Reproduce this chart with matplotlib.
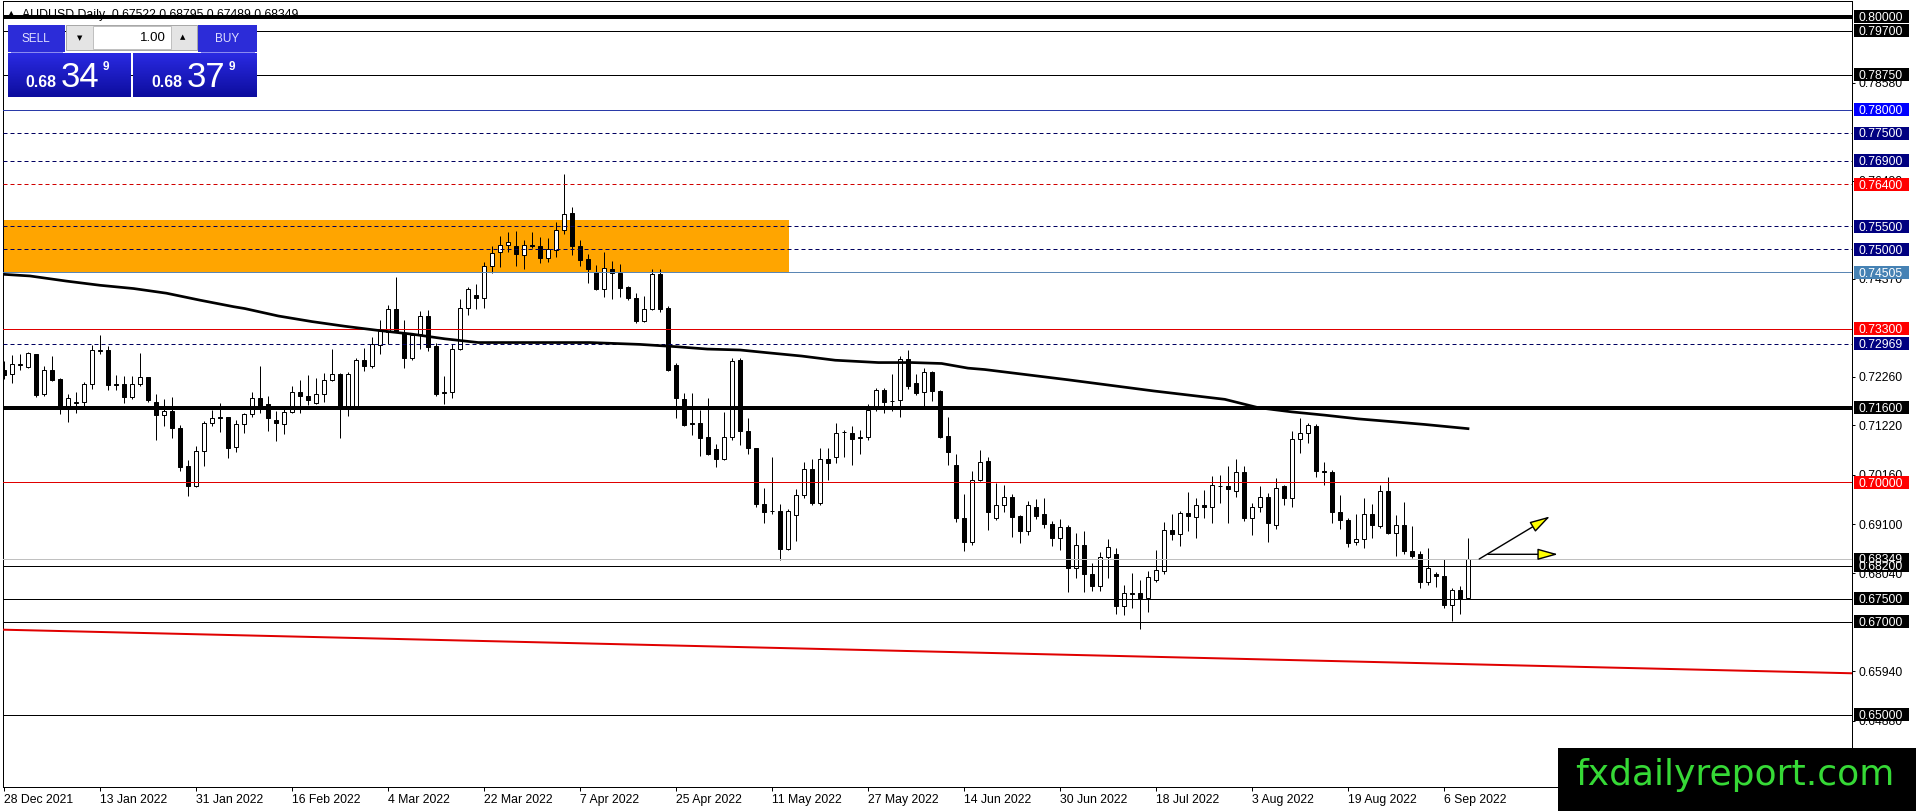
import matplotlib
matplotlib.use('Agg')
import matplotlib.pyplot as plt
import numpy as np
from matplotlib.patches import Rectangle

plt.rcParams['font.family'] = ['Liberation Sans', 'DejaVu Sans']

# ---- data (bar 0 = 28 Dec 2021) ----
opens = [0.7242, 0.7232, 0.7251, 0.7248, 0.7275, 0.7189, 0.7241, 0.7222, 0.7164, 0.7171,
         0.7173, 0.7210, 0.7282, 0.7284, 0.7211, 0.7210, 0.7184, 0.7210, 0.7226, 0.7173,
         0.7144, 0.7152, 0.7116, 0.7034, 0.6992, 0.7068, 0.7128, 0.7139, 0.7140, 0.7076,
         0.7126, 0.7146, 0.7180, 0.7167, 0.7133, 0.7126, 0.7151, 0.7194, 0.7186, 0.7171,
         0.7189, 0.7219, 0.7233, 0.7164, 0.7164, 0.7262, 0.7250, 0.7295, 0.7323, 0.7373,
         0.7321, 0.7267, 0.7318, 0.7358, 0.7292, 0.7191, 0.7194, 0.7287, 0.7375, 0.7403,
         0.7395, 0.7464, 0.7494, 0.7510, 0.7508, 0.7488, 0.7509, 0.7508, 0.7481, 0.7499,
         0.7542, 0.7578, 0.7508, 0.7479, 0.7451, 0.7414, 0.7458, 0.7449, 0.7420, 0.7395,
         0.7347, 0.7372, 0.7447, 0.7374, 0.7252, 0.7179, 0.7127, 0.7127, 0.7098, 0.7072,
         0.7049, 0.7098, 0.7262, 0.7111, 0.7073, 0.6954, 0.6939, 0.6939, 0.6857, 0.6929,
         0.6972, 0.7028, 0.6956, 0.7050, 0.7054, 0.7107, 0.7105, 0.7094, 0.7098, 0.7164,
         0.7197, 0.7175, 0.7176, 0.7264, 0.7213, 0.7194, 0.7237, 0.7196, 0.7099, 0.7038,
         0.6922, 0.6872, 0.7004, 0.7045, 0.6922, 0.6950, 0.6969, 0.6927, 0.6896, 0.6946,
         0.6931, 0.6911, 0.6880, 0.6903, 0.6815, 0.6866, 0.6802, 0.6778, 0.6839, 0.6845,
         0.6735, 0.6761, 0.6762, 0.6752, 0.6789, 0.6810, 0.6898, 0.6888, 0.6933, 0.6926,
         0.6950, 0.6946, 0.6992, 0.6991, 0.6981, 0.7021, 0.6922, 0.6946, 0.6969, 0.6909,
         0.6991, 0.6965, 0.7092, 0.7106, 0.7120, 0.7023, 0.7021, 0.6936, 0.6918, 0.6872,
         0.6877, 0.6931, 0.6905, 0.6981, 0.6890, 0.6907, 0.6853, 0.6845, 0.6786, 0.6802,
         0.6798, 0.6737, 0.6769, 0.67522]
highs = [0.7260, 0.7273, 0.7276, 0.7280, 0.7276, 0.7249, 0.7272, 0.7223, 0.7189, 0.7194,
         0.7215, 0.7294, 0.7316, 0.7293, 0.7230, 0.7229, 0.7229, 0.7277, 0.7227, 0.7189,
         0.7178, 0.7183, 0.7123, 0.7047, 0.7078, 0.7131, 0.7155, 0.7170, 0.7141, 0.7133,
         0.7148, 0.7194, 0.7250, 0.7186, 0.7153, 0.7161, 0.7206, 0.7219, 0.7230, 0.7223,
         0.7234, 0.7286, 0.7234, 0.7237, 0.7267, 0.7289, 0.7312, 0.7348, 0.7381, 0.7441,
         0.7348, 0.7320, 0.7368, 0.7369, 0.7299, 0.7228, 0.7297, 0.7393, 0.7419, 0.7425,
         0.7473, 0.7507, 0.7529, 0.7538, 0.7540, 0.7520, 0.7538, 0.7527, 0.7524, 0.7558,
         0.7662, 0.7592, 0.7520, 0.7490, 0.7467, 0.7495, 0.7476, 0.7469, 0.7421, 0.7406,
         0.7401, 0.7458, 0.7458, 0.7379, 0.7257, 0.7192, 0.7192, 0.7155, 0.7181, 0.7082,
         0.7150, 0.7267, 0.7267, 0.7137, 0.7074, 0.6987, 0.7054, 0.6954, 0.6942, 0.6985,
         0.7043, 0.7049, 0.7074, 0.7074, 0.7128, 0.7113, 0.7121, 0.7113, 0.7167, 0.7203,
         0.7202, 0.7233, 0.7271, 0.7283, 0.7233, 0.7246, 0.7239, 0.7199, 0.7140, 0.7060,
         0.6974, 0.7025, 0.7070, 0.7054, 0.6999, 0.6995, 0.6974, 0.6929, 0.6959, 0.6963,
         0.6965, 0.6916, 0.6921, 0.6907, 0.6890, 0.6896, 0.6827, 0.6850, 0.6877, 0.6859,
         0.6780, 0.6805, 0.6789, 0.6809, 0.6855, 0.6914, 0.6931, 0.6938, 0.6979, 0.6966,
         0.6984, 0.7013, 0.7015, 0.7034, 0.7049, 0.7034, 0.6956, 0.6991, 0.6976, 0.7009,
         0.6995, 0.7110, 0.7137, 0.7127, 0.7125, 0.7044, 0.7027, 0.6972, 0.6923, 0.6931,
         0.6966, 0.6953, 0.6993, 0.7011, 0.6929, 0.6957, 0.6905, 0.6853, 0.6859, 0.6807,
         0.6834, 0.6773, 0.6777, 0.68795]
lows = [0.7221, 0.7214, 0.7242, 0.7246, 0.7184, 0.7186, 0.7217, 0.7147, 0.7130, 0.7149,
        0.7164, 0.7201, 0.7275, 0.7199, 0.7197, 0.7171, 0.7178, 0.7207, 0.7173, 0.7091,
        0.7121, 0.7096, 0.7024, 0.6970, 0.6990, 0.7035, 0.7120, 0.7108, 0.7053, 0.7065,
        0.7106, 0.7139, 0.7149, 0.7110, 0.7088, 0.7103, 0.7148, 0.7149, 0.7166, 0.7167,
        0.7173, 0.7217, 0.7096, 0.7142, 0.7160, 0.7239, 0.7245, 0.7275, 0.7297, 0.7323,
        0.7246, 0.7263, 0.7287, 0.7282, 0.7186, 0.7167, 0.7181, 0.7285, 0.7360, 0.7373,
        0.7375, 0.7450, 0.7463, 0.7494, 0.7465, 0.7458, 0.7503, 0.7470, 0.7472, 0.7483,
        0.7534, 0.7488, 0.7465, 0.7427, 0.7413, 0.7398, 0.7393, 0.7397, 0.7391, 0.7342,
        0.7345, 0.7370, 0.7365, 0.7238, 0.7137, 0.7121, 0.7102, 0.7057, 0.7058, 0.7032,
        0.7048, 0.7091, 0.7079, 0.7060, 0.6947, 0.6913, 0.6931, 0.6832, 0.6855, 0.6874,
        0.6967, 0.6952, 0.6952, 0.7004, 0.7042, 0.7054, 0.7038, 0.7060, 0.7090, 0.7154,
        0.7149, 0.7153, 0.7140, 0.7201, 0.7187, 0.7164, 0.7174, 0.7094, 0.7038, 0.6914,
        0.6852, 0.6865, 0.7002, 0.6898, 0.6918, 0.6936, 0.6883, 0.6870, 0.6886, 0.6920,
        0.6902, 0.6863, 0.6854, 0.6764, 0.6795, 0.6764, 0.6766, 0.6767, 0.6795, 0.6716,
        0.6714, 0.6729, 0.6684, 0.6721, 0.6786, 0.6803, 0.6875, 0.6863, 0.6896, 0.6880,
        0.6923, 0.6913, 0.6956, 0.6913, 0.6968, 0.6916, 0.6886, 0.6936, 0.6872, 0.6900,
        0.6951, 0.6946, 0.7063, 0.7084, 0.7011, 0.6993, 0.6913, 0.6900, 0.6861, 0.6864,
        0.6858, 0.6880, 0.6902, 0.6888, 0.6841, 0.6845, 0.6837, 0.6773, 0.6779, 0.6774,
        0.6729, 0.6701, 0.6716, 0.67489]
closes = [0.7230, 0.7253, 0.7253, 0.7277, 0.7187, 0.7240, 0.7220, 0.7160, 0.7180, 0.7173,
          0.7210, 0.7284, 0.7284, 0.7209, 0.7209, 0.7184, 0.7210, 0.7225, 0.7177, 0.7144,
          0.7152, 0.7116, 0.7033, 0.6991, 0.7068, 0.7128, 0.7137, 0.7138, 0.7074, 0.7126,
          0.7146, 0.7180, 0.7164, 0.7137, 0.7127, 0.7151, 0.7194, 0.7186, 0.7176, 0.7189,
          0.7219, 0.7233, 0.7164, 0.7232, 0.7262, 0.7250, 0.7296, 0.7325, 0.7373, 0.7325,
          0.7267, 0.7316, 0.7358, 0.7291, 0.7190, 0.7194, 0.7287, 0.7375, 0.7414, 0.7395,
          0.7464, 0.7493, 0.7509, 0.7516, 0.7490, 0.7509, 0.7507, 0.7481, 0.7501, 0.7542,
          0.7576, 0.7508, 0.7478, 0.7459, 0.7414, 0.7460, 0.7450, 0.7418, 0.7395, 0.7347,
          0.7372, 0.7447, 0.7372, 0.7242, 0.7180, 0.7123, 0.7126, 0.7096, 0.7060, 0.7049,
          0.7098, 0.7261, 0.7111, 0.7074, 0.6954, 0.6937, 0.6938, 0.6857, 0.6939, 0.6972,
          0.7028, 0.6956, 0.7049, 0.7042, 0.7106, 0.7108, 0.7093, 0.7098, 0.7156, 0.7197,
          0.7173, 0.7174, 0.7264, 0.7207, 0.7192, 0.7237, 0.7196, 0.7097, 0.7065, 0.6922,
          0.6872, 0.7004, 0.7044, 0.6936, 0.6950, 0.6969, 0.6926, 0.6896, 0.6950, 0.6928,
          0.6911, 0.6880, 0.6903, 0.6815, 0.6866, 0.6802, 0.6778, 0.6839, 0.6860, 0.6735,
          0.6761, 0.6759, 0.6752, 0.6797, 0.6812, 0.6898, 0.6888, 0.6933, 0.6928, 0.6950,
          0.6946, 0.6993, 0.6991, 0.6986, 0.7021, 0.6922, 0.6946, 0.6969, 0.6913, 0.6988,
          0.6965, 0.7092, 0.7106, 0.7122, 0.7024, 0.7021, 0.6936, 0.6918, 0.6870, 0.6877,
          0.6931, 0.6907, 0.6982, 0.6890, 0.6907, 0.6852, 0.6841, 0.6786, 0.6815, 0.6799,
          0.6737, 0.6769, 0.6750, 0.68349]

# moving average (bar, price)
ma_bars = [-0.5, 3.25, 7.8, 12, 16.2, 20.3, 24.5, 28.7, 30.1, 34.3, 38.5, 42.6, 46.8, 51,
           55.1, 59.3, 60.75, 73.25, 79.5, 84.1, 87.9, 92, 95.5, 99.7, 103.9, 109.3, 113.5,
           117.2, 120.5, 122.6, 133, 143.7, 152.6, 156.8, 161, 165.1, 169.3, 173.5, 177.6,
           181.8, 183]
ma_vals = [0.7447, 0.7443, 0.7432, 0.7423, 0.7416, 0.7406, 0.7391, 0.7377, 0.7373, 0.7357,
           0.7345, 0.7335, 0.7326, 0.7318, 0.7308, 0.7300, 0.7300, 0.7300, 0.7296, 0.7291,
           0.7286, 0.7284, 0.7278, 0.7271, 0.7262, 0.7257, 0.7257, 0.7255, 0.7245, 0.7242,
           0.7220, 0.7196, 0.7178, 0.7160, 0.7151, 0.7144, 0.7136, 0.7130, 0.7124, 0.7117,
           0.7115]

# horizontal levels: price, line colour, width px, dashed
levels = [(0.80000, 'black', 4.0, False), (0.79700, 'black', 1, False),
          (0.78750, 'black', 1, False), (0.78000, '#2a3aa8', 1, False),
          (0.77500, '#000060', 1, True), (0.76900, '#000060', 1, True),
          (0.76400, '#d00000', 1, True), (0.75500, '#000060', 1, True),
          (0.75000, '#000060', 1, True), (0.74505, '#5a86b4', 1, False),
          (0.73300, '#e00000', 1, False), (0.72969, '#000060', 1, True),
          (0.71600, 'black', 4.0, False), (0.70000, '#e00000', 1, False),
          (0.68349, '#c0c0c0', 1, False), (0.68200, 'black', 1, False),
          (0.67500, 'black', 1, False), (0.67000, 'black', 1, False),
          (0.65000, 'black', 1, False)]
# price tags on the right scale: price, background
tags = [(0.80000, 'black'), (0.79700, 'black'), (0.78750, 'black'), (0.78000, '#0000ff'),
        (0.77500, '#000080'), (0.76900, '#000080'), (0.76400, '#ff0000'),
        (0.75500, '#000080'), (0.75000, '#000080'), (0.74505, '#4682b4'),
        (0.73300, '#ff0000'), (0.72969, '#000080'), (0.71600, 'black'),
        (0.70000, '#ff0000'), (0.68349, 'black'), (0.68200, 'black'),
        (0.67500, 'black'), (0.67000, 'black'), (0.65000, 'black')]

# plain scale labels that still show next to the tags
scale_ticks = [0.78580, 0.76480, 0.74370, 0.72260, 0.71220, 0.70160, 0.69100, 0.68040,
               0.65940, 0.64880]
date_bars = [0, 12, 24, 36, 48, 60, 72, 84, 96, 108, 120, 132, 144, 156, 168, 180]
date_labels = ['28 Dec 2021', '13 Jan 2022', '31 Jan 2022', '16 Feb 2022', '4 Mar 2022',
               '22 Mar 2022', '7 Apr 2022', '25 Apr 2022', '11 May 2022', '27 May 2022',
               '14 Jun 2022', '30 Jun 2022', '18 Jul 2022', '3 Aug 2022', '19 Aug 2022',
               '6 Sep 2022']

zone_bars = [-0.5, 98.1]
zone_prices = [0.74505, 0.7563]
trend_bars = [-0.5, 231]
trend_prices = [0.66833, 0.65895]
arrow_up = [(184.4, 0.68350), (193.25, 0.69265)]
arrow_flat = [(185.5, 0.68451), (194.25, 0.68451)]

W, H = 1916, 811
PX = 0.72  # points per pixel at dpi 100

fig = plt.figure(figsize=(W / 100, H / 100), dpi=100)
ax = fig.add_axes([3 / W, 24 / H, 1849 / W, 786 / H])
ov = fig.add_axes([0, 0, 1, 1], zorder=5)
ov.set_xlim(0, W)
ov.set_ylim(H, 0)
ov.axis('off')

ax.set_xlim(-0.125, 231)
ax.set_ylim(0.63452, 0.80337)
for s in ax.spines.values():
    s.set_linewidth(1 * PX)
    s.set_color('black')

# supply zone
ax.add_patch(Rectangle((zone_bars[0], zone_prices[0]), zone_bars[1] - zone_bars[0],
                       zone_prices[1] - zone_prices[0], facecolor='#ffa500',
                       edgecolor='none', zorder=1))

# candles
o = np.array(opens)
h = np.array(highs)
l = np.array(lows)
c = np.array(closes)
idx = np.arange(len(o))
up = c >= o
ax.vlines(idx, l, h, color='black', lw=1 * PX, zorder=2)
ax.bar(idx[up], (c - o)[up], bottom=o[up], width=0.6, facecolor='white',
       edgecolor='black', linewidth=1 * PX, zorder=2.5)
ax.bar(idx[~up], (o - c)[~up], bottom=c[~up], width=0.6, facecolor='black',
       edgecolor='black', linewidth=1 * PX, zorder=2.5)

# levels
for price, col, wpx, dashed in levels:
    ls = (0, (4, 3)) if dashed else '-'
    ax.axhline(price, color=col, lw=wpx * PX, ls=ls, zorder=3)

ax.plot(ma_bars, ma_vals, color='black', lw=2.7 * PX, zorder=3.5,
        solid_joinstyle='round')
ax.plot(trend_bars, trend_prices, color='#e00000', lw=2 * PX, zorder=3)

for start, tip in (arrow_up, arrow_flat):
    ax.annotate('', xy=tip, xytext=start, zorder=4,
                arrowprops=dict(arrowstyle='-|>,head_length=1.25,head_width=0.35',
                                facecolor='#ffff00', edgecolor='black',
                                lw=1.4 * PX, shrinkA=0, shrinkB=0))

# axes ticks
ax.yaxis.tick_right()
ax.set_yticks(scale_ticks)
ax.set_yticklabels(['%.5f' % v for v in scale_ticks])
ax.tick_params(axis='y', length=3 * PX, width=1 * PX, pad=4 * PX, labelsize=8.8)
ax.set_xticks(date_bars)
ax.set_xticklabels(date_labels, ha='left')
ax.tick_params(axis='x', length=4 * PX, width=1 * PX, pad=3 * PX, labelsize=8.8)

# header
ax.text(8, 16, '\u25b2', transform=ov.transData, fontsize=6, va='baseline',
        family=['DejaVu Sans'], zorder=1)
ax.text(22, 18, 'AUDUSD Daily  0.67522 0.68795 0.67489 0.68349',
        transform=ov.transData, fontsize=8.8, va='baseline', zorder=1)


def px_y(price):
    return ov.transData.inverted().transform(ax.transData.transform((0, price)))[1]


# price tags
for price, bg in tags:
    y = px_y(price)
    ov.add_patch(Rectangle((1854, y - 6.5), 55, 13, facecolor=bg, edgecolor='none',
                           zorder=6))
    ov.text(1859, y + 4.4, '%.5f' % price, color='white', fontsize=8.8,
            va='baseline', ha='left', zorder=7)

# trade panel
blue_top = '#2c2cd8'
ov.add_patch(Rectangle((8, 25), 57, 27, facecolor=blue_top, edgecolor='none', zorder=6))
ov.add_patch(Rectangle((198, 25), 59, 27, facecolor=blue_top, edgecolor='none', zorder=6))
ov.plot([11, 62], [51.5, 51.5], color='#8a8af0', lw=1 * PX, zorder=7)
ov.plot([201, 254], [51.5, 51.5], color='#8a8af0', lw=1 * PX, zorder=7)
ov.text(36, 39, 'SELL', color='#e0e0ff', fontsize=8.5, ha='center', va='center', zorder=7)
ov.text(227, 39, 'BUY', color='#e0e0ff', fontsize=8.5, ha='center', va='center', zorder=7)
ov.add_patch(Rectangle((66, 25), 131, 25, facecolor='#e4e4e4', edgecolor='#a8a8a8',
                       lw=1 * PX, zorder=6))
ov.add_patch(Rectangle((93, 26), 78, 23, facecolor='white', edgecolor='#c0c0c0',
                       lw=1 * PX, zorder=6.5))
ov.text(80, 38, '\u25bc', fontsize=5, ha='center', va='center', family=['DejaVu Sans'],
        zorder=7)
ov.text(183, 37, '\u25b2', fontsize=5, ha='center', va='center', family=['DejaVu Sans'],
        zorder=7)
ov.text(166, 38, '1.00', fontsize=9.5, ha='right', va='center', zorder=7)

grad = np.linspace(0, 1, 50).reshape(-1, 1)
cmap = matplotlib.colors.LinearSegmentedColormap.from_list('panel', ['#2a2ae2', '#0d0d9e'])
for x0, x1 in ((8, 131), (133, 257)):
    ov.imshow(grad, cmap=cmap, extent=(x0, x1, 97, 53), aspect='auto', zorder=6)
ov.set_xlim(0, W)
ov.set_ylim(H, 0)

for xs, big in ((25, '34'), (151, '37')):
    ov.text(xs, 87, '0.68', color='white', fontsize=11.4, fontweight='bold',
            va='baseline', zorder=7)
    ov.text(xs + 36, 87, big, color='white', fontsize=25, va='baseline', zorder=7)
    ov.text(xs + 78, 70, '9', color='white', fontsize=8.5, fontweight='bold',
            va='baseline', zorder=7)

# watermark
ov.add_patch(Rectangle((1558, 748), W - 1558, H - 748, facecolor='black',
                       edgecolor='none', zorder=8))
ov.text(1575, 784.5, 'fxdailyreport.com', color='#36d936', fontsize=26,
        family=['DejaVu Sans'], va='baseline', ha='left', zorder=9)

fig.savefig('out.png', dpi=100, facecolor='white')
